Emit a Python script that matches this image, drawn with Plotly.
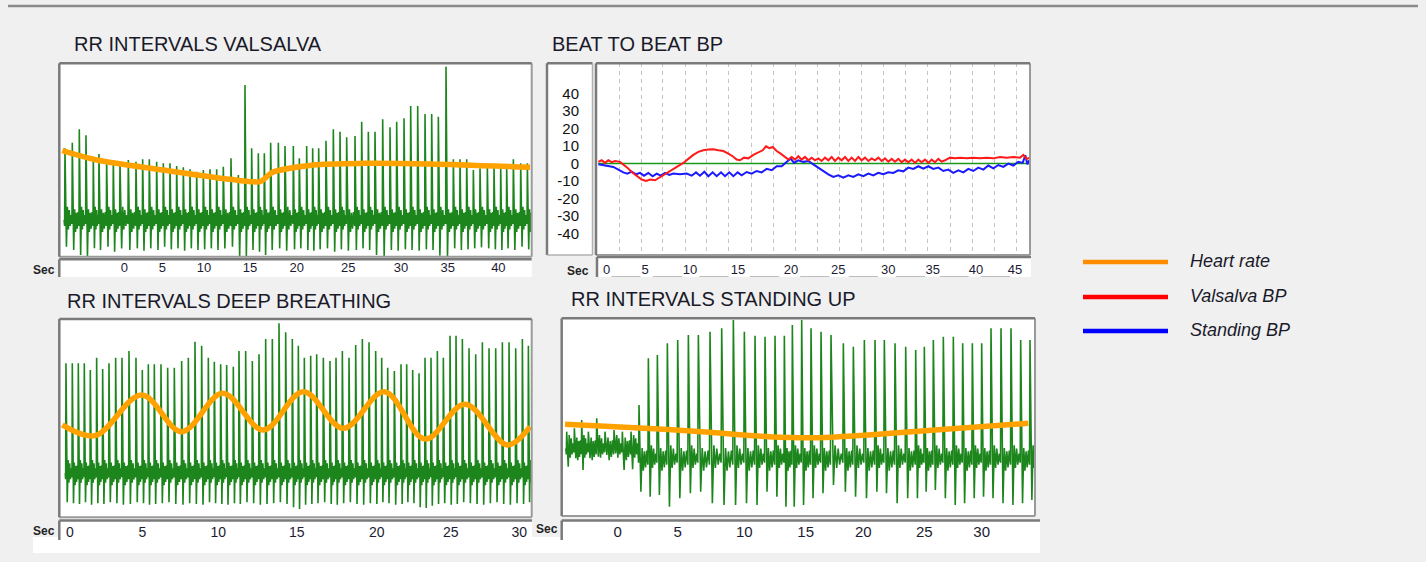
import plotly.graph_objects as go

W, H = 1426, 562

# ---------------- DATA ----------------
# RR intervals Valsalva (x: sample position, y: amplitude units)
val_beat_x = [105,127,148,168,190,207,230,250,270,295, 318,338,358,380,400,420,440,460,480,500,
              520,540,560,580,603,625,645,665,685,703, 722,745,765,790,808,830,848,866,888,910,
              930,950,975,995,1015,1035,1058,1080,1100,1122, 1142,1163,1185,1205,1225,1248,1270,1290,1310,1330,
              1350,1372,1392,1412,1430,1450,1472,1492]
val_peak = [325,342,382,364,300,308,292,290,285,290, 285,292,292,285,280,280,272,268,262,255,
            260,262,262,270,295,245,515,325,310,310, 342,342,332,332,295,332,325,325,348,382,
            375,358,362,405,375,375,412,388,405,415, 452,452,428,428,420,570,292,292,292,260,
            265,270,270,270,265,292,280,280]
val_trough = [30,20,5,0,25,20,30,15,25,20, 25,18,25,20,30,22,25,18,25,20,
              22,25,20,25,30,0,0,20,15,5, 20,25,18,22,25,20,18,22,25,15,
              22,18,20,25,20,5,2,20,18,22, 20,18,22,20,3,0,25,20,22,25,
              28,25,22,20,25,20,30,22]
val_baseline = 110
val_hr_x = [97,200,400,600,690,705,725,850,1000,1200,1500]
val_hr_y = [318,290,260,232,225,235,252,275,280,278,268]
val_tick_pos = [283,397,522,660,800,955,1113,1253,1405]
val_tick_text = ["0","5","10","15","20","25","30","35","40"]

# Beat to beat BP (x: sample position, y: mmHg)
bp_tick_pos = [200,315,450,594,753,895,1045,1178,1308,1425]
bp_tick_text = ["0","5","10","15","20","25","30","35","40","45"]
bp_grid_pos = [237,303,368,435,500,566,633,700,767,833,898,965,1030,1097,1163,1230,1297,1363,1430]
bp_y_ticks = [40,30,20,10,0,-10,-20,-30,-40]
bp_zero_x = [175,1470]
bp_zero_y = [0,0]
valsalva_bp_x = [175,185,195,205,215,225,240,250,262,275,290,305,318,330,345,358,372,385,400,415,
                 430,445,460,475,490,505,520,535,550,565,578,590,600,612,625,640,655,668,678,688,
                 698,710,722,735,745,755,765,775,785,795,805,815,825,835,845,855,865,875,885,895,
                 905,915,925,935,945,955,965,975,985,995,1005,1015,1025,1035,1045,1055,1065,1075,1085,1095,
                 1105,1115,1125,1135,1145,1155,1165,1175,1185,1195,1205,1215,1230,1245,1260,1280,1300,1320,1340,1360,
                 1380,1400,1420,1440,1450,1460,1470]
valsalva_bp_y = [1.0,1.9,0.4,1.9,0.8,1.5,1.0,-0.4,-2.3,-4.8,-7.2,-9.1,-9.9,-9.1,-9.5,-8.0,-6.7,-5.0,-3.4,-1.5,
                 0.4,2.7,5.0,6.7,7.6,8.0,8.2,7.6,7.2,5.7,4.2,2.3,1.9,3.4,3.0,5.0,6.5,7.6,9.9,8.8,
                 9.5,7.2,5.7,3.8,2.3,3.8,2.3,4.2,2.3,3.8,1.9,3.4,1.9,3.0,1.5,3.4,1.9,3.8,1.5,3.4,
                 1.9,3.8,1.5,3.4,1.5,3.8,1.9,3.4,1.5,3.0,1.9,3.4,1.5,3.0,1.1,2.7,1.1,2.7,0.8,2.3,
                 0.8,2.3,0.4,2.3,0.8,2.3,0.4,2.3,0.8,2.7,1.1,1.9,3.4,3.0,3.4,3.0,3.4,3.0,3.4,3.0,
                 3.8,3.4,3.8,3.4,5.0,2.7,3.4]
standing_bp_x = [175,190,205,220,235,250,262,275,288,300,312,325,338,350,362,375,388,400,420,440,
                 455,468,480,493,505,518,530,543,555,568,580,593,605,620,635,650,665,680,695,710,
                 725,740,752,762,775,790,805,820,835,850,865,880,895,910,925,940,955,970,985,1000,
                 1015,1030,1045,1060,1075,1090,1105,1120,1135,1150,1165,1180,1195,1210,1225,1240,1255,1270,1285,1300,
                 1315,1330,1345,1360,1375,1390,1405,1420,1435,1448,1456,1462,1468]
standing_bp_y = [-0.4,-0.8,-1.1,-1.9,-3.4,-5.0,-5.7,-4.6,-6.1,-5.3,-6.9,-5.3,-7.2,-5.7,-6.9,-5.3,-6.5,-5.7,-6.1,-5.7,
                 -6.9,-5.0,-6.9,-4.6,-7.2,-5.0,-7.2,-5.0,-7.2,-5.0,-7.2,-5.0,-6.7,-4.8,-5.7,-4.2,-5.0,-3.0,-3.8,-1.5,
                 -1.5,1.0,2.9,0.4,1.9,1.0,1.5,-0.4,-2.3,-4.4,-6.1,-7.6,-6.7,-8.0,-6.7,-7.6,-6.1,-7.2,-5.7,-6.7,
                 -5.3,-6.1,-5.0,-5.3,-3.8,-4.4,-2.3,-3.0,-1.5,-2.9,-1.5,-3.0,-2.3,-4.2,-3.4,-5.3,-3.8,-5.0,-3.0,-4.2,
                 -2.3,-3.4,-1.1,-2.7,-0.8,-1.9,0.0,-1.1,1.0,0.4,4.8,-0.4,1.9]

# RR intervals deep breathing
deep_beat_x = [108,127,145,163,181,200,218,237,257,276, 297,318,337,355,373,393,413,433,455,475,
               495,515,535,553,572,590,610,627,647,667, 687,707,727,747,767,787,805,823,842,860,
               880,900,918,937,957,977,997,1017,1037,1055, 1073,1093,1113,1130,1148,1167,1185,1203,1222,1240,
               1260,1278,1297,1317,1337,1357,1377,1397,1417,1437, 1457,1477,1495]
deep_peak = [462,462,462,462,442,479,445,462,479,479, 499,479,442,459,459,459,449,449,469,479,
             527,515,479,467,459,457,452,499,499,469, 489,535,535,582,555,535,515,479,485,489,
             479,469,479,499,479,517,535,525,499,479, 449,439,459,459,442,432,479,479,499,479,
             545,545,535,507,489,525,507,507,525,525, 507,535,515]
deep_trough = [45,42,40,45,38,42,40,45,42,38, 40,45,42,38,40,42,45,40,38,42,
               40,38,45,42,40,38,42,40,45,42, 38,40,42,45,40,30,25,38,40,42,
               45,40,38,42,45,40,38,42,40,45, 42,38,40,45,42,30,28,35,40,42,
               38,40,45,42,40,38,42,45,40,38, 42,40,45]
deep_baseline = 132
deep_hr_x = [97,195,335,455,578,700,820,940,1063,1185,1305,1432,1500]
deep_hr_y = [277,245,367,257,372,262,377,267,377,235,339,217,272]
deep_tick_pos = [120,337,565,800,1040,1262,1468]
deep_tick_text = ["0","5","10","15","20","25","30"]

# RR intervals standing up
stand_beat_x = [95,118,140,160,185,210,237,262,288,312,
                340,367,397,428,460,490,525,560,595,628, 660,690,720,748,772,800,828,858,888,925,
                955,988,1020,1048,1080,1112,1142,1168,1195,1225, 1255,1283,1312,1340,1368,1398,1428,1457,1485]
stand_peak = [253,263,288,253,293,253,258,253,253,333,
              473,483,518,528,543,543,553,563,588,553, 541,538,541,541,573,588,563,553,543,518,
              508,528,528,528,518,508,498,508,528,538, 538,518,518,518,563,563,563,528,528]
stand_trough = [148,173,138,173,178,183,188,138,140,73,
                58,63,28,53,68,73,38,33,33,38, 33,73,58,28,28,33,53,68,93,73,
                58,53,73,68,38,53,53,73,78,53, 33,38,53,58,53,38,33,38,48]
stand_baseline_supine = 203
stand_baseline_upright = 172
stand_onset_x = 300
stand_hr_x = [90,300,500,700,850,1000,1200,1480]
stand_hr_y = [275,265,253,238,235,243,258,278]
stand_tick_pos = [248,428,628,812,985,1168,1340]
stand_tick_text = ["0","5","10","15","20","25","30"]

legend_names = ["Heart rate", "Valsalva BP", "Standing BP"]

# ---------------- STYLE ----------------
GREEN = "#1c861c"
ORANGE = "#ffa200"
RED = "#ff1a1a"
BLUE = "#1a1aff"
BG = "#f0f0f0"
TXT = "#1b1b33"

# beat waveform template (phase within beat interval, offset from baseline)
wave_phase = [-0.12, -0.05, 0.0, 0.2, 0.33, 0.46, 0.58, 0.70, 0.83]
wave_a = [0, -18, "P", "T", 40, -28, 30, -18, 15]
wave_b = [0, -12, "P", "T", 32, -36, 22, -26, 24]


def ecg(bx, pk, tr, base_fn):
    n = min(len(bx), len(pk), len(tr))
    xs, ys = [], []
    for i in range(n):
        t = bx[i]
        d = (bx[i + 1] - t) if i + 1 < n else (t - bx[i - 1])
        b = base_fn(t)
        tpl = wave_a if i % 2 == 0 else wave_b
        for ph, off in zip(wave_phase, tpl):
            if off == "P":
                y = pk[i]
            elif off == "T":
                y = tr[i]
            else:
                y = b + off
            xs.append(t + ph * d)
            ys.append(y)
    return xs, ys


def dx(l, r):
    return [l / W, r / W]


def dy(t, b):
    return [1 - b / H, 1 - t / H]


fig = go.Figure()

# Panel 1
x, y = ecg(val_beat_x, val_peak, val_trough, lambda t: val_baseline)
fig.add_trace(go.Scatter(x=x, y=y, mode="lines", line=dict(color=GREEN, width=1.6),
                         xaxis="x", yaxis="y", showlegend=False, hoverinfo="skip"))
fig.add_trace(go.Scatter(x=val_hr_x, y=val_hr_y, mode="lines", line=dict(color=ORANGE, width=5.5, shape="spline", smoothing=0.8),
                         xaxis="x", yaxis="y", name=legend_names[0], showlegend=False))

# Panel 2 (BP)
fig.add_trace(go.Scatter(x=bp_zero_x, y=bp_zero_y, mode="lines", line=dict(color="#1a9a1a", width=1.5),
                         xaxis="x2", yaxis="y2", showlegend=False, hoverinfo="skip"))
fig.add_trace(go.Scatter(x=standing_bp_x, y=standing_bp_y, mode="lines", line=dict(color=BLUE, width=2),
                         xaxis="x2", yaxis="y2", name=legend_names[2], showlegend=False))
fig.add_trace(go.Scatter(x=valsalva_bp_x, y=valsalva_bp_y, mode="lines", line=dict(color=RED, width=2),
                         xaxis="x2", yaxis="y2", name=legend_names[1], showlegend=False))

# Panel 3
x, y = ecg(deep_beat_x, deep_peak, deep_trough, lambda t: deep_baseline)
fig.add_trace(go.Scatter(x=x, y=y, mode="lines", line=dict(color=GREEN, width=1.6),
                         xaxis="x3", yaxis="y3", showlegend=False, hoverinfo="skip"))
fig.add_trace(go.Scatter(x=deep_hr_x, y=deep_hr_y, mode="lines", line=dict(color=ORANGE, width=5.5, shape="spline", smoothing=1.0),
                         xaxis="x3", yaxis="y3", showlegend=False))

# Panel 4
x, y = ecg(stand_beat_x, stand_peak, stand_trough,
           lambda t: stand_baseline_supine if t < stand_onset_x else stand_baseline_upright)
fig.add_trace(go.Scatter(x=x, y=y, mode="lines", line=dict(color=GREEN, width=1.6),
                         xaxis="x4", yaxis="y4", showlegend=False, hoverinfo="skip"))
fig.add_trace(go.Scatter(x=stand_hr_x, y=stand_hr_y, mode="lines", line=dict(color=ORANGE, width=5.5, shape="spline", smoothing=0.8),
                         xaxis="x4", yaxis="y4", showlegend=False))

base_ax = dict(showgrid=False, zeroline=False, showline=False, ticks="", fixedrange=True)
tickfont = lambda s: dict(family="Liberation Sans, Arial, sans-serif", size=s, color=TXT)

bp_mid = [(bp_tick_pos[i] + bp_tick_pos[i + 1]) / 2 for i in range(len(bp_tick_pos) - 1)]
bp_vals = bp_tick_pos + bp_mid
bp_text = bp_tick_text + ["<span style='color:#b4b4b4'>____</span>"] * len(bp_mid)

fig.update_layout(
    width=W, height=H, margin=dict(l=0, r=0, t=0, b=0),
    paper_bgcolor=BG, plot_bgcolor="white",
    xaxis=dict(base_ax, domain=dx(59.3, 531.7), range=[88, 1505], anchor="y",
               tickvals=val_tick_pos, ticktext=val_tick_text, tickfont=tickfont(13), ticklabelstandoff=1),
    yaxis=dict(base_ax, domain=dy(63.3, 256.7), range=[0, 580], anchor="x", showticklabels=False),
    xaxis2=dict(base_ax, domain=dx(596, 1030), range=[168, 1470], anchor="y2",
                tickvals=bp_vals, ticktext=bp_text, tickfont=tickfont(13), ticklabelstandoff=5,
                minor=dict(tickvals=bp_grid_pos, showgrid=True, gridcolor="#c4c4c4", griddash="4px,4px", gridwidth=1)),
    yaxis2=dict(base_ax, domain=dy(63.3, 255), range=[-52.2, 57.3], anchor="x2",
                tickvals=bp_y_ticks, ticktext=[str(v) for v in bp_y_ticks],
                tickfont=dict(family="Liberation Sans, Arial, sans-serif", size=15, color="#111111"),
                ticklabelstandoff=16),
    xaxis3=dict(base_ax, domain=dx(59.3, 531.7), range=[88, 1505], anchor="y3",
                tickvals=deep_tick_pos, ticktext=deep_tick_text, tickfont=tickfont(14), ticklabelstandoff=5),
    yaxis3=dict(base_ax, domain=dy(319, 517.3), range=[0, 595], anchor="x3", showticklabels=False),
    xaxis4=dict(base_ax, domain=dx(561.7, 1035), range=[80, 1500], anchor="y4",
                tickvals=stand_tick_pos, ticktext=stand_tick_text, tickfont=tickfont(15), ticklabelstandoff=5),
    yaxis4=dict(base_ax, domain=dy(318.3, 516), range=[0, 593], anchor="x4", showticklabels=False),
)

shapes = []


def prect(l, t, r, b, fill=None, line_color=None, lw=0, layer="below"):
    shapes.append(dict(type="rect", xref="paper", yref="paper", x0=l / W, x1=r / W, y0=1 - b / H, y1=1 - t / H,
                       fillcolor=fill if fill else "rgba(0,0,0,0)",
                       line=dict(color=line_color if line_color else "rgba(0,0,0,0)", width=lw), layer=layer))


def pline(x0, y0, x1, y1, color, lw, layer="above"):
    shapes.append(dict(type="line", xref="paper", yref="paper", x0=x0 / W, x1=x1 / W, y0=1 - y0 / H, y1=1 - y1 / H,
                       line=dict(color=color, width=lw), layer=layer))


# top rule
pline(8, 6, 1418, 6, "#8a8a8a", 2.5)

# white bottom strip
prect(33, 537, 1040, 553, fill="white", layer="below")

# axis boxes (white) with dark top/left
for (l, t, r, b) in [(59.3, 259.3, 531.7, 277), (597, 257, 1031, 277), (59.3, 520.5, 532, 540), (561.7, 520.5, 1040, 540)]:
    prect(l, t, r, b, fill="white", layer="below")
    pline(l, t, r, t, "#7a7a7a", 2.5)
    pline(l, t, l, b, "#7a7a7a", 2.5)

# BP y-label box
prect(547, 63.3, 592.5, 255, fill="white", layer="below")
pline(547, 63.3, 592.5, 63.3, "#7a7a7a", 2.5)
pline(547, 63.3, 547, 255, "#7a7a7a", 2.5)
pline(592.5, 63.3, 592.5, 255, "#b0b0b0", 1.5)
pline(547, 255, 592.5, 255, "#b0b0b0", 1.5)

# plot frames
for (l, t, r, b) in [(59.3, 63.3, 531.7, 256.7), (596, 63.3, 1030, 255), (59.3, 319, 531.7, 517.3), (561.7, 318.3, 1035, 516)]:
    pline(r, t, r, b, "#9a9a9a", 2)
    pline(l, b, r, b, "#9a9a9a", 2)
    pline(l, t, r, t, "#7a7a7a", 2.5)
    pline(l, t, l, b, "#7a7a7a", 2.5)

# legend samples
legend_colors = ["#ff8c00", "#ff0000", "#0000ff"]
legend_y = [262, 297, 331]
for c, yy in zip(legend_colors, legend_y):
    pline(1083, yy, 1168, yy, c, 4.5)

fig.update_layout(shapes=shapes)

ann = []
title_font = dict(family="Liberation Sans, Arial, sans-serif", size=20, color="#1a1a2a")
for txt, xx, yy in [("RR INTERVALS VALSALVA", 72, 44), ("BEAT TO BEAT BP", 550, 44),
                    ("RR INTERVALS DEEP BREATHING", 65, 301), ("RR INTERVALS STANDING UP", 569, 299)]:
    ann.append(dict(text=txt, x=xx / W, y=1 - yy / H, xref="paper", yref="paper", xanchor="left", yanchor="middle",
                    showarrow=False, font=title_font))
for xx, yy in [(57, 270), (591, 271), (57, 531), (560, 529)]:
    ann.append(dict(text="Sec", x=xx / W, y=1 - yy / H, xref="paper", yref="paper", xanchor="right", yanchor="middle",
                    showarrow=False, font=dict(family="Liberation Sans, Arial, sans-serif", size=12, color="#222222", weight="bold")))
for name, yy in zip(legend_names, legend_y):
    ann.append(dict(text=name, x=1188 / W, y=1 - (yy - 1) / H, xref="paper", yref="paper", xanchor="left", yanchor="middle",
                    showarrow=False, font=dict(family="Liberation Sans, Arial, sans-serif", size=18, color="#1a1a2a", style="italic")))
fig.update_layout(annotations=ann)

fig.write_html("out.html", config={"displayModeBar": False},
               post_script="document.body.style.margin='0px';document.body.style.padding='0px';")
